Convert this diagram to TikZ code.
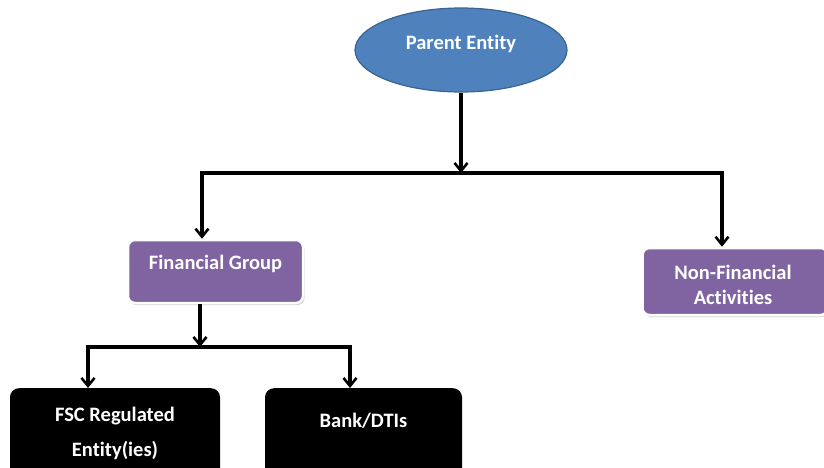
\documentclass[tikz,border=0pt]{standalone}
\usepackage{fontspec}
\setmainfont{Carlito}[Ligatures=NoCommon]
\usetikzlibrary{arrows.meta,shapes.geometric,shadows}
\definecolor{blueE}{HTML}{4F81BD}
\definecolor{blueB}{HTML}{3A6491}
\definecolor{purp}{HTML}{8064A2}
\tikzset{
  conn/.style={line width=3.2pt,-{Straight Barb[length=8pt,width=13pt,line width=2.6pt]}},
  seg/.style={line width=3.2pt},
  pbox/.style={draw=white,line width=2.5pt,fill=purp,rounded corners=7pt,
    drop shadow={shadow xshift=1.5pt,shadow yshift=-2pt,opacity=0.35}},
  bbox/.style={fill=black,rounded corners=9pt},
  lbl/.style={text=white,font=\bfseries\fontsize{20.5}{25.5}\selectfont,align=center}
}
\begin{document}
\begin{tikzpicture}[x=1pt,y=-1pt]
\useasboundingbox (0,0) rectangle (824,467);
\clip (0,0) rectangle (824,467);
% parent ellipse
\node[ellipse,draw=blueB,line width=1.2pt,fill=blueE,minimum width=212pt,minimum height=84pt,inner sep=0pt] (pe) at (461,50) {};
\node[lbl] (pet) at (461,44) {Parent Entity};
% boxes
\node[pbox,minimum width=175pt,minimum height=63pt,inner sep=0pt] (fg) at (215.5,271.5) {};
\node[lbl] (fgt) at (215.5,264) {Financial Group};
\node[pbox,minimum width=185pt,minimum height=67pt,inner sep=0pt] (nf) at (735,281.5) {};
\node[lbl] (nft) at (733,285) {Non-Financial\\Activities};
\node[bbox,minimum width=210pt,minimum height=110pt,inner sep=0pt,anchor=north] (fsc) at (115,388) {};
\node[lbl,font=\bfseries\fontsize{20.5}{35}\selectfont] (fsct) at (115,433) {FSC Regulated\\Entity(ies)};
\node[bbox,minimum width=197pt,minimum height=110pt,inner sep=0pt,anchor=north] (bk) at (363.5,388) {};
\node[lbl] (bkt) at (363.5,421) {Bank/DTIs};
% coordinates
\coordinate (j1) at (461,173);
\coordinate (l1) at (202,173);
\coordinate (r1) at (722,173);
\coordinate (j2) at (200,347);
\coordinate (l2) at (88,347);
\coordinate (r2) at (350,347);
% connectors
\draw[conn] (pe.south) -- (j1);
\draw[seg,line cap=rect] (l1) -- (r1);
\draw[conn] (l1) -- (l1 |- fg.north);
\draw[conn] (r1) -- (r1 |- nf.north);
\draw[conn] (fg.south -| j2) -- (j2);
\draw[seg,line cap=rect] (l2) -- (r2);
\draw[conn] (l2) -- (l2 |- fsc.north);
\draw[conn] (r2) -- (r2 |- bk.north);
\end{tikzpicture}
\end{document}
